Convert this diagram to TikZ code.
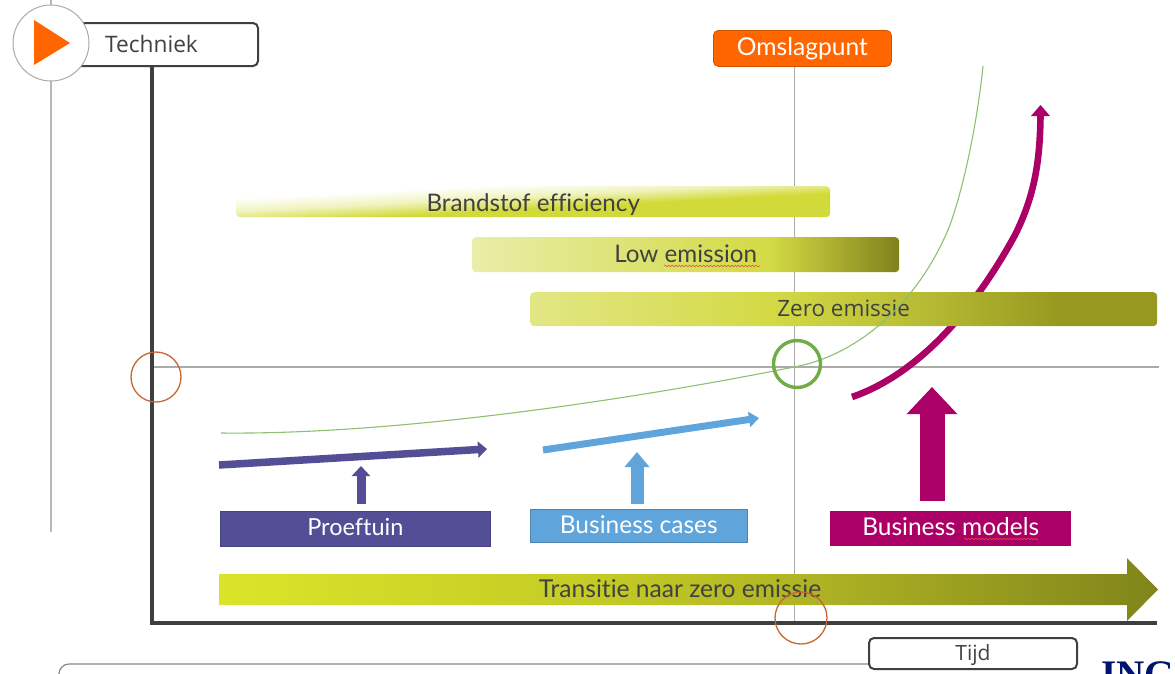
\documentclass[tikz,border=0pt]{standalone}
\usepackage{fontspec}
\usetikzlibrary{arrows.meta,decorations.pathmorphing}
\newfontfamily\ingf[Ligatures=CommonOff]{Lato}
\newfontfamily\osf{Open Sans}
\newfontfamily\ingl{Liberation Serif}
\definecolor{txt}{HTML}{414141}
\definecolor{axisc}{HTML}{3F3F3F}
\definecolor{gridc}{HTML}{ABABAB}
\definecolor{ingorange}{HTML}{FF6600}
\definecolor{plum}{HTML}{AB0066}
\definecolor{violetb}{HTML}{534E96}
\definecolor{skyb}{HTML}{5FA5DC}
\definecolor{ringc}{HTML}{C8662F}
\definecolor{curvec}{HTML}{8FC070}
\definecolor{ringg}{HTML}{70AD47}
\definecolor{navyc}{HTML}{00136E}
\definecolor{frameg}{HTML}{888888}
\definecolor{wavec}{HTML}{E05040}
\definecolor{ba}{HTML}{F0F3BE}
\definecolor{bb}{HTML}{D2DA38}
\definecolor{bc}{HTML}{D0D840}
\definecolor{la}{HTML}{E9EDA8}
\definecolor{lb}{HTML}{D2DA44}
\definecolor{lc}{HTML}{ADB030}
\definecolor{ld}{HTML}{7F821C}
\definecolor{za}{HTML}{E2E684}
\definecolor{zb}{HTML}{D3DA45}
\definecolor{zc}{HTML}{BCC037}
\definecolor{zd}{HTML}{A5A828}
\definecolor{ze}{HTML}{96981F}
\definecolor{ta}{HTML}{DCE429}
\definecolor{tb}{HTML}{C4CB25}
\definecolor{tc}{HTML}{B0B424}
\definecolor{td}{HTML}{80851A}
\pgfdeclarehorizontalshading{shBrand}{100bp}{color(0bp)=(white); color(34bp)=(white); color(45bp)=(ba); color(56bp)=(bb); color(100bp)=(bc)}
\pgfdeclarehorizontalshading{shLow}{100bp}{color(0bp)=(la); color(25bp)=(la); color(60bp)=(lb); color(67bp)=(lc); color(75bp)=(ld); color(100bp)=(ld)}
\pgfdeclarehorizontalshading{shZero}{100bp}{color(0bp)=(za); color(25bp)=(za); color(44bp)=(zb); color(54.5bp)=(zc); color(62.5bp)=(zd); color(67.6bp)=(ze); color(100bp)=(ze)}
\pgfdeclarehorizontalshading{shTrans}{100bp}{color(0bp)=(ta); color(25bp)=(ta); color(45bp)=(tb); color(56bp)=(tc); color(75bp)=(td); color(100bp)=(td)}
\tikzset{
  x=1pt,y=-1pt,
  gridline/.style={draw=gridc,line width=1.1pt},
  axisline/.style={draw=axisc,line width=3.2pt},
  labelbox/.style={draw=axisc,fill=white,line width=2pt,rounded corners=5pt,anchor=north west,inner sep=0pt,text=txt,font=\osf\fontsize{22.7}{26}\selectfont},
  colourbox/.style={anchor=north west,inner sep=0pt,text=white,font=\ingf\fontsize{24.5}{28}\selectfont},
  bar/.style={anchor=north west,inner sep=0pt,rounded corners=4pt,text=txt,font=\ingf\fontsize{24.2}{28}\selectfont},
  ring/.style={circle,draw=ringc,line width=1.3pt,inner sep=0pt,minimum size=#1},
  wave/.style={draw=wavec,line width=.6pt,decorate,decoration={snake,amplitude=.8pt,segment length=3.5pt}},
  blockarrow/.style n args={4}{line width=#2,color=#1,-{Triangle[length=#3,width=#4]}},
}
\begin{document}
\begin{tikzpicture}
\clip (0,0) rectangle (1175,673);
\fill[white] (0,0) rectangle (1175,673);
% thin guide lines
\coordinate (guideT) at (51,0); \coordinate (guideB) at (51,532);
\draw[draw=gridc!85,line width=1.3pt] (guideT) -- (guideB);
\coordinate (hL) at (152,367); \coordinate (hR) at (1159,367);
\coordinate (vB) at (794.5,625);
\node[anchor=north west,minimum width=178pt,minimum height=36pt,inner sep=0pt,fill=ingorange,draw=ingorange!80!black,line width=.8pt,rounded corners=5pt,text=white,font=\ingf\fontsize{24.6}{28}\selectfont] (omslag) at (713,30) {Omslagpunt};
\draw[gridline] (omslag.south -| vB) -- (vB);
\draw[gridline] (hL) -- (hR);
% axes and labels
\coordinate (axT) at (152,65); \coordinate (axO) at (152,623); \coordinate (axR) at (1157,623);
\draw[axisline,line join=miter] (axT) -- (axO) -- (axR);
\node[labelbox,minimum width=197pt,minimum height=43pt] (techniek) at (60,22) {\hspace*{0pt}};
\node[text=txt,font=\osf\fontsize{22.7}{26}\selectfont,anchor=center] (technieklabel) at (151.5,43.5) {Techniek};
\node[circle,draw=gridc,fill=white,line width=1pt,minimum size=76pt,inner sep=0pt] (play) at (51,43) {};
\fill[ingorange] (34,20) -- (70,43) -- (34,65) -- cycle;
% plum curve with head
\coordinate (mS) at (852,397); \coordinate (mE) at (1040.5,115);
\draw[plum,line width=6.6pt] (mS) .. controls (930,370) and (985,290) .. (1015,235) .. controls (1035,195) and (1040,160) .. (mE);
\fill[plum] (1031,116) -- (1040.5,105) -- (1050,116) -- cycle;
% bars
\node[bar,shade,shading=shBrand,shading angle=-87,minimum width=594pt,minimum height=31pt,text height=23pt] (brand) at (236,186) {Brandstof efficiency};
\node[bar,shade,shading=shLow,minimum width=427pt,minimum height=35pt,text depth=2pt] (low) at (472,237) {Low emission};
\node[bar,shade,shading=shZero,minimum width=627pt,minimum height=34pt] (zero) at (530,292) {};
\node[text=txt,font=\osf\fontsize{22.5}{26}\selectfont,yshift=1pt] (zerolabel) at (zero.center) {Zero emissie};
\coordinate (w1a) at (664,266); \coordinate (w1b) at (760,266);
\draw[wave] (w1a) -- (w1b);
% green curve
\draw[curvec,line width=1.1pt] (221,433) .. controls (400,435) and (640,398) .. (794,367) .. controls (860,355) and (920,300) .. (950,225) .. controls (966,180) and (978,115) .. (983,66);
\node[circle,draw=ringg,line width=3.4pt,minimum size=47pt,inner sep=0pt] (turn) at (797,364) {};
% coloured boxes
\node[colourbox,font=\ingf\fontsize{23.5}{28}\selectfont,fill=violetb,draw=violetb!85!black,line width=.6pt,minimum width=270pt,minimum height=35pt,text depth=4pt] (proef) at (220,511) {Proeftuin};
\node[colourbox,fill=skyb,draw=skyb!80!black,line width=.6pt,minimum width=217pt,minimum height=33pt,text depth=2pt] (cases) at (530,509) {Business cases};
\node[colourbox,fill=plum,minimum width=241pt,minimum height=35pt,text depth=4pt] (models) at (830,511) {Business models};
\coordinate (w2a) at (964,539); \coordinate (w2b) at (1038,539);
\draw[wave] (w2a) -- (w2b);
% arrows
\coordinate (p1) at (219,465); \coordinate (p2) at (487,449);
\coordinate (c1) at (543,450); \coordinate (c2) at (759,418);
\coordinate (pu1) at (361,504); \coordinate (pu2) at (361,466);
\coordinate (cu1) at (637,504); \coordinate (cu2) at (637,452);
\coordinate (mu1) at (932,501); \coordinate (mu2) at (932,387);
\draw[blockarrow={violetb}{7.5pt}{9pt}{16pt}] (p1) -- (p2);
\draw[blockarrow={skyb}{7pt}{10pt}{15pt}] (c1) -- (c2);
\draw[blockarrow={violetb}{9pt}{10pt}{18pt}] (pu1) -- (pu2);
\draw[blockarrow={skyb}{13pt}{15pt}{24pt}] (cu1) -- (cu2);
\draw[blockarrow={plum}{25pt}{27pt}{49pt}] (mu1) -- (mu2);
% transition arrow
\path[shade,shading=shTrans] (219,574) -- (1127,574) -- (1127,558) -- (1158,589.5) -- (1127,621) -- (1127,605) -- (219,605) -- cycle;
\node[text=txt,font=\ingf\fontsize{24.6}{28}\selectfont] (trans) at (680,589) {Transitie naar zero emissie};
% marker rings
\node[ring=50pt] (ringy) at (156,377) {};
\node[ring=52pt] (ringx) at (801,618) {};
% bottom frame
\node[labelbox,minimum width=208pt,minimum height=31pt,font=\osf\fontsize{21}{24}\selectfont,text height=20pt] (tijd) at (868,637) {Tijd};
\coordinate (fS) at (59,680);
\draw[frameg,line width=1.2pt,rounded corners=10pt] (fS) -- (59,664) -- (tijd.west |- 0,664);
\node[anchor=base west,inner sep=0pt,text=navyc,font=\ingl\bfseries\fontsize{39}{39}\selectfont] (ing) at (1101,687) {ING};
\end{tikzpicture}
\end{document}
